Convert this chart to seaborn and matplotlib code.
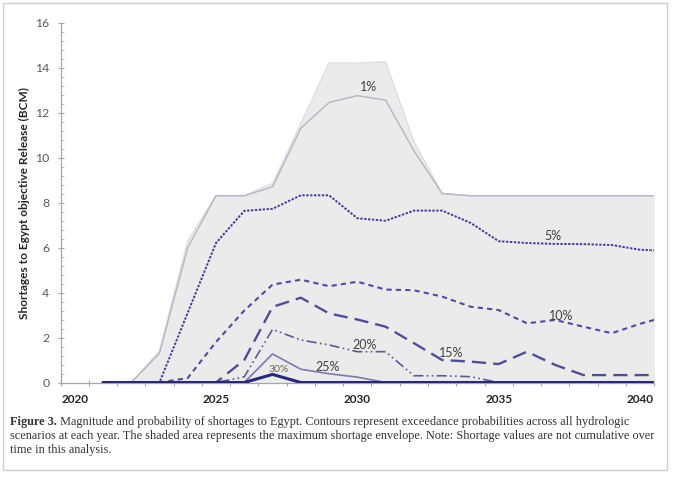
import numpy as np
import matplotlib
matplotlib.use("Agg")
import matplotlib.pyplot as plt
import seaborn as sns
from matplotlib.patches import Rectangle
from matplotlib.ticker import MultipleLocator, FixedLocator

# years of the series (last point falls just past the right edge and is clipped)
years = list(range(2021, 2042))

envelope = [0, 0, 1.4, 6.3, 8.3, 8.3, 8.85, 11.5, 14.2, 14.2, 14.25, 10.7, 8.4,
            8.3, 8.3, 8.3, 8.3, 8.3, 8.3, 8.3, 8.3]
pct1 = [0, 0, 1.3, 6.0, 8.3, 8.3, 8.7, 11.3, 12.45, 12.75, 12.55, 10.3, 8.4,
        8.3, 8.3, 8.3, 8.3, 8.3, 8.3, 8.3, 8.3]
pct5 = [0, 0, 0, 3.1, 6.2, 7.63, 7.72, 8.32, 8.32, 7.3, 7.19, 7.64, 7.64,
        7.1, 6.28, 6.2, 6.16, 6.15, 6.11, 5.9, 5.85]
pct10 = [0, 0, 0, 0.2, 1.8, 3.2, 4.35, 4.57, 4.28, 4.48, 4.13, 4.1, 3.82,
         3.37, 3.22, 2.63, 2.78, 2.48, 2.19, 2.61, 2.95]
pct15 = [0, 0, 0, 0, 0, 1.0, 3.36, 3.77, 3.07, 2.8, 2.48, 1.75, 1.0,
         0.93, 0.82, 1.37, 0.78, 0.33, 0.33, 0.33, 0.33]
pct20 = [0, 0, 0, 0, 0, 0.25, 2.36, 1.89, 1.67, 1.37, 1.37, 0.3, 0.3,
         0.26, 0, 0, 0, 0, 0, 0, 0]
pct25 = [0, 0, 0, 0, 0, 0, 1.27, 0.59, 0.39, 0.24, 0, 0, 0,
         0, 0, 0, 0, 0, 0, 0, 0]
pct30 = [0, 0, 0, 0, 0, 0, 0.36, 0, 0, 0, 0, 0, 0,
         0, 0, 0, 0, 0, 0, 0, 0]

tick_years = [2020, 2025, 2030, 2035, 2040]

sns.set_theme(style="white")
plt.rcParams['font.family'] = ['Lato', 'DejaVu Sans']

fig = plt.figure(figsize=(6.8, 4.82), dpi=100)
ax = fig.add_axes([0.089, 0.2064, 0.873, 0.7469])

# shaded maximum shortage envelope
ax.fill_between(years, envelope, 0, color="#ebebeb", lw=0, zorder=1)
sns.lineplot(x=years, y=envelope, ax=ax, color="#dcdce4", lw=1.0, zorder=2)

# exceedance contours
sns.lineplot(x=years, y=pct1, ax=ax, color="#b4b4c6", lw=1.0, zorder=3)
sns.lineplot(x=years, y=pct5, ax=ax, color="#3c3c9c", lw=1.4,
             linestyle=(0, (1.2, 0.8)), zorder=4)
sns.lineplot(x=years, y=pct10, ax=ax, color="#4c4ca4", lw=1.5,
             linestyle=(0, (2.5, 2.0)), zorder=4)
sns.lineplot(x=years, y=pct15, ax=ax, color="#4e4e98", lw=1.7,
             linestyle=(0, (6, 3)), zorder=4)
sns.lineplot(x=years, y=pct20, ax=ax, color="#5a5a98", lw=1.2,
             linestyle=(0, (6, 2, 1, 2, 1, 2)), zorder=4)
sns.lineplot(x=years, y=pct25, ax=ax, color="#7a78b6", lw=1.2, zorder=4)
sns.lineplot(x=years, y=pct30, ax=ax, color="#28287c", lw=2.2, zorder=5)

# contour labels
lab_kw = dict(fontsize=9, color="#404040", ha="center", va="center", zorder=6)
ax.text(2030.41, 13.12, "1%", **lab_kw)
ax.text(2036.91, 6.49, "5%", **lab_kw)
ax.text(2037.2, 2.96, "10%", **lab_kw)
ax.text(2033.32, 1.30, "15%", **lab_kw)
ax.text(2030.25, 1.67, "20%", **lab_kw)
ax.text(2028.96, 0.68, "25%", **lab_kw)
ax.text(2027.23, 0.59, "30%", fontsize=7.5, color="#6a6a50",
        ha="center", va="center", zorder=6)

ax.set_xlim(2019.5, 2040.5)
ax.set_ylim(0, 16)

for side in ["top", "right"]:
    ax.spines[side].set_visible(False)
for side in ["left", "bottom"]:
    ax.spines[side].set_color("#a6a6a6")
    ax.spines[side].set_linewidth(0.9)

ax.xaxis.set_major_locator(FixedLocator(tick_years))
ax.xaxis.set_minor_locator(MultipleLocator(1, offset=0.5))
ax.set_xticklabels([str(y) for y in tick_years], fontweight="bold",
                   color="#262626", fontsize=8.5)
ax.tick_params(axis="x", which="major", length=0, pad=8)
ax.tick_params(axis="x", which="minor", direction="inout", length=4,
               width=0.8, color="#a6a6a6")

ax.yaxis.set_major_locator(MultipleLocator(2))
ax.yaxis.set_minor_locator(MultipleLocator(0.4))
ax.tick_params(axis="y", which="major", direction="inout", length=4,
               width=0.8, color="#a6a6a6", labelsize=8.8, labelcolor="#595959",
               pad=6)
ax.tick_params(axis="y", which="minor", direction="in", length=2.5,
               width=0.6, color="#b0b0b0")
ax.tick_params(left=True, bottom=True, which="both")
ax.set_xlabel("")
ax.set_ylabel("")

fig.text(0.036, 0.579, "Shortages to Egypt objective Release (BCM)",
         rotation=90, ha="center", va="center", fontsize=8.6,
         fontweight="bold", color="#262626")

# outer frame
fig.patches.append(Rectangle((3 / 680, 1 - 470 / 482), 664 / 680, 467 / 482,
                             transform=fig.transFigure, fill=False,
                             edgecolor="#cfcfcf", lw=1.0))

# caption
cap_kw = dict(family=["Liberation Serif", "DejaVu Serif"], fontsize=8.85,
              color="#333333", va="center", ha="left")
renderer = fig.canvas.get_renderer()
x0 = 10 / 680
t = fig.text(x0, 1 - 421.7 / 482, "Figure 3.", fontweight="bold", **cap_kw)
w = t.get_window_extent(renderer).width / 680
fig.text(x0 + w, 1 - 421.7 / 482,
         " Magnitude and probability of shortages to Egypt. Contours represent "
         "exceedance probabilities across all hydrologic", **cap_kw)
fig.text(x0, 1 - 436.2 / 482,
         "scenarios at each year. The shaded area represents the maximum "
         "shortage envelope. Note: Shortage values are not cumulative over",
         **cap_kw)
fig.text(x0, 1 - 450 / 482, "time in this analysis.", **cap_kw)

fig.savefig("out.png", dpi=100)
